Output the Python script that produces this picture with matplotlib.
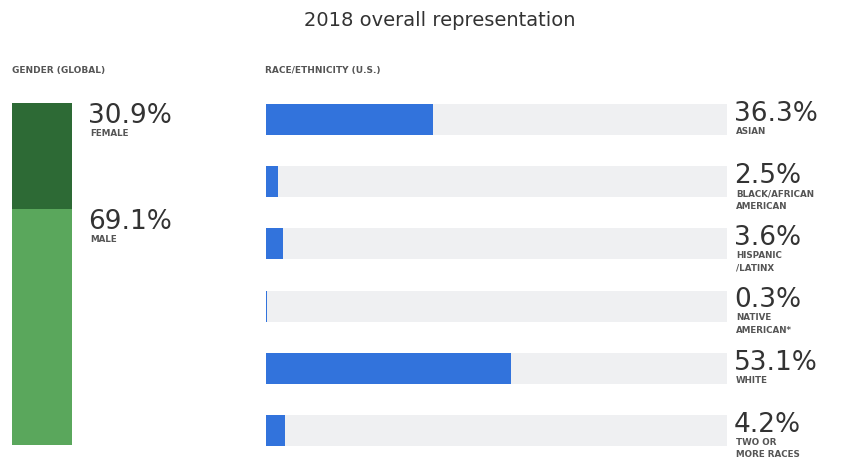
import matplotlib.pyplot as plt
import matplotlib.transforms as mtransforms

# gender (global)
gender_labels = ['FEMALE', 'MALE']
gender_values = [30.9, 69.1]

# race / ethnicity (U.S.)
race_labels = ['ASIAN', 'BLACK/AFRICAN\nAMERICAN', 'HISPANIC\n/LATINX',
               'NATIVE\nAMERICAN*', 'WHITE', 'TWO OR\nMORE RACES']
race_values = [36.3, 2.5, 3.6, 0.3, 53.1, 4.2]

W, H = 853, 459
fig = plt.figure(figsize=(W / 100, H / 100), dpi=100)
fig.patch.set_facecolor('white')

def px(x, y):
    # pixel (from top-left) -> figure fraction
    return x / W, 1 - y / H

txt_col = '#333333'
lab_col = '#555555'
pct_size = 19
lab_size = 6.3

fig.text(*px(440, 20), '2018 overall representation', ha='center', va='center',
         fontsize=14, color=txt_col)
fig.text(*px(12, 70), 'GENDER (GLOBAL)', ha='left', va='center',
         fontsize=6.5, color=lab_col, fontweight='bold')
fig.text(*px(265, 70), 'RACE/ETHNICITY (U.S.)', ha='left', va='center',
         fontsize=6.5, color=lab_col, fontweight='bold')

# gender stacked bar
axg = fig.add_axes([12 / W, 1 - 445 / H, 60 / W, 342 / H])
gcolors = ['#2d6a35', '#5aa75c']
bottom = 0
starts = []
for v, c in zip(gender_values, gcolors):
    axg.bar(0.5, v, bottom=bottom, width=1, color=c)
    starts.append(bottom)
    bottom += v
axg.set_xlim(0, 1)
axg.set_ylim(100, 0)
axg.axis('off')

tg = mtransforms.blended_transform_factory(fig.transFigure, axg.transData)
for lab, v, s in zip(gender_labels, gender_values, starts):
    axg.text(88 / W, s, '%.1f%%' % v, transform=tg, ha='left', va='top',
             fontsize=pct_size, color=txt_col)
    axg.annotate(lab, xy=(88 / W, s), xycoords=tg, xytext=(2, -26),
                 textcoords='offset pixels', ha='left', va='top',
                 fontsize=lab_size, color=lab_col, fontweight='bold')

# race bars
axr = fig.add_axes([266 / W, 1 - 446 / H, 461 / W, 342 / H])
ypos = list(range(len(race_values)))
axr.barh(ypos, [100] * len(race_values), height=0.5, color='#eff0f2')
axr.barh(ypos, race_values, height=0.5, color='#3273dc')
axr.set_xlim(0, 100)
axr.set_ylim(5.25, -0.25)
axr.axis('off')

tr = mtransforms.blended_transform_factory(fig.transFigure, axr.transData)
for y, lab, v in zip(ypos, race_labels, race_values):
    axr.text(734 / W, y - 0.3, '%.1f%%' % v, transform=tr, ha='left', va='top',
             fontsize=pct_size, color=txt_col)
    axr.annotate(lab, xy=(734 / W, y - 0.3), xycoords=tr, xytext=(2, -26),
                 textcoords='offset pixels', ha='left', va='top',
                 fontsize=lab_size, color=lab_col, fontweight='bold',
                 linespacing=1.5)

fig.savefig('out.png', dpi=100)
